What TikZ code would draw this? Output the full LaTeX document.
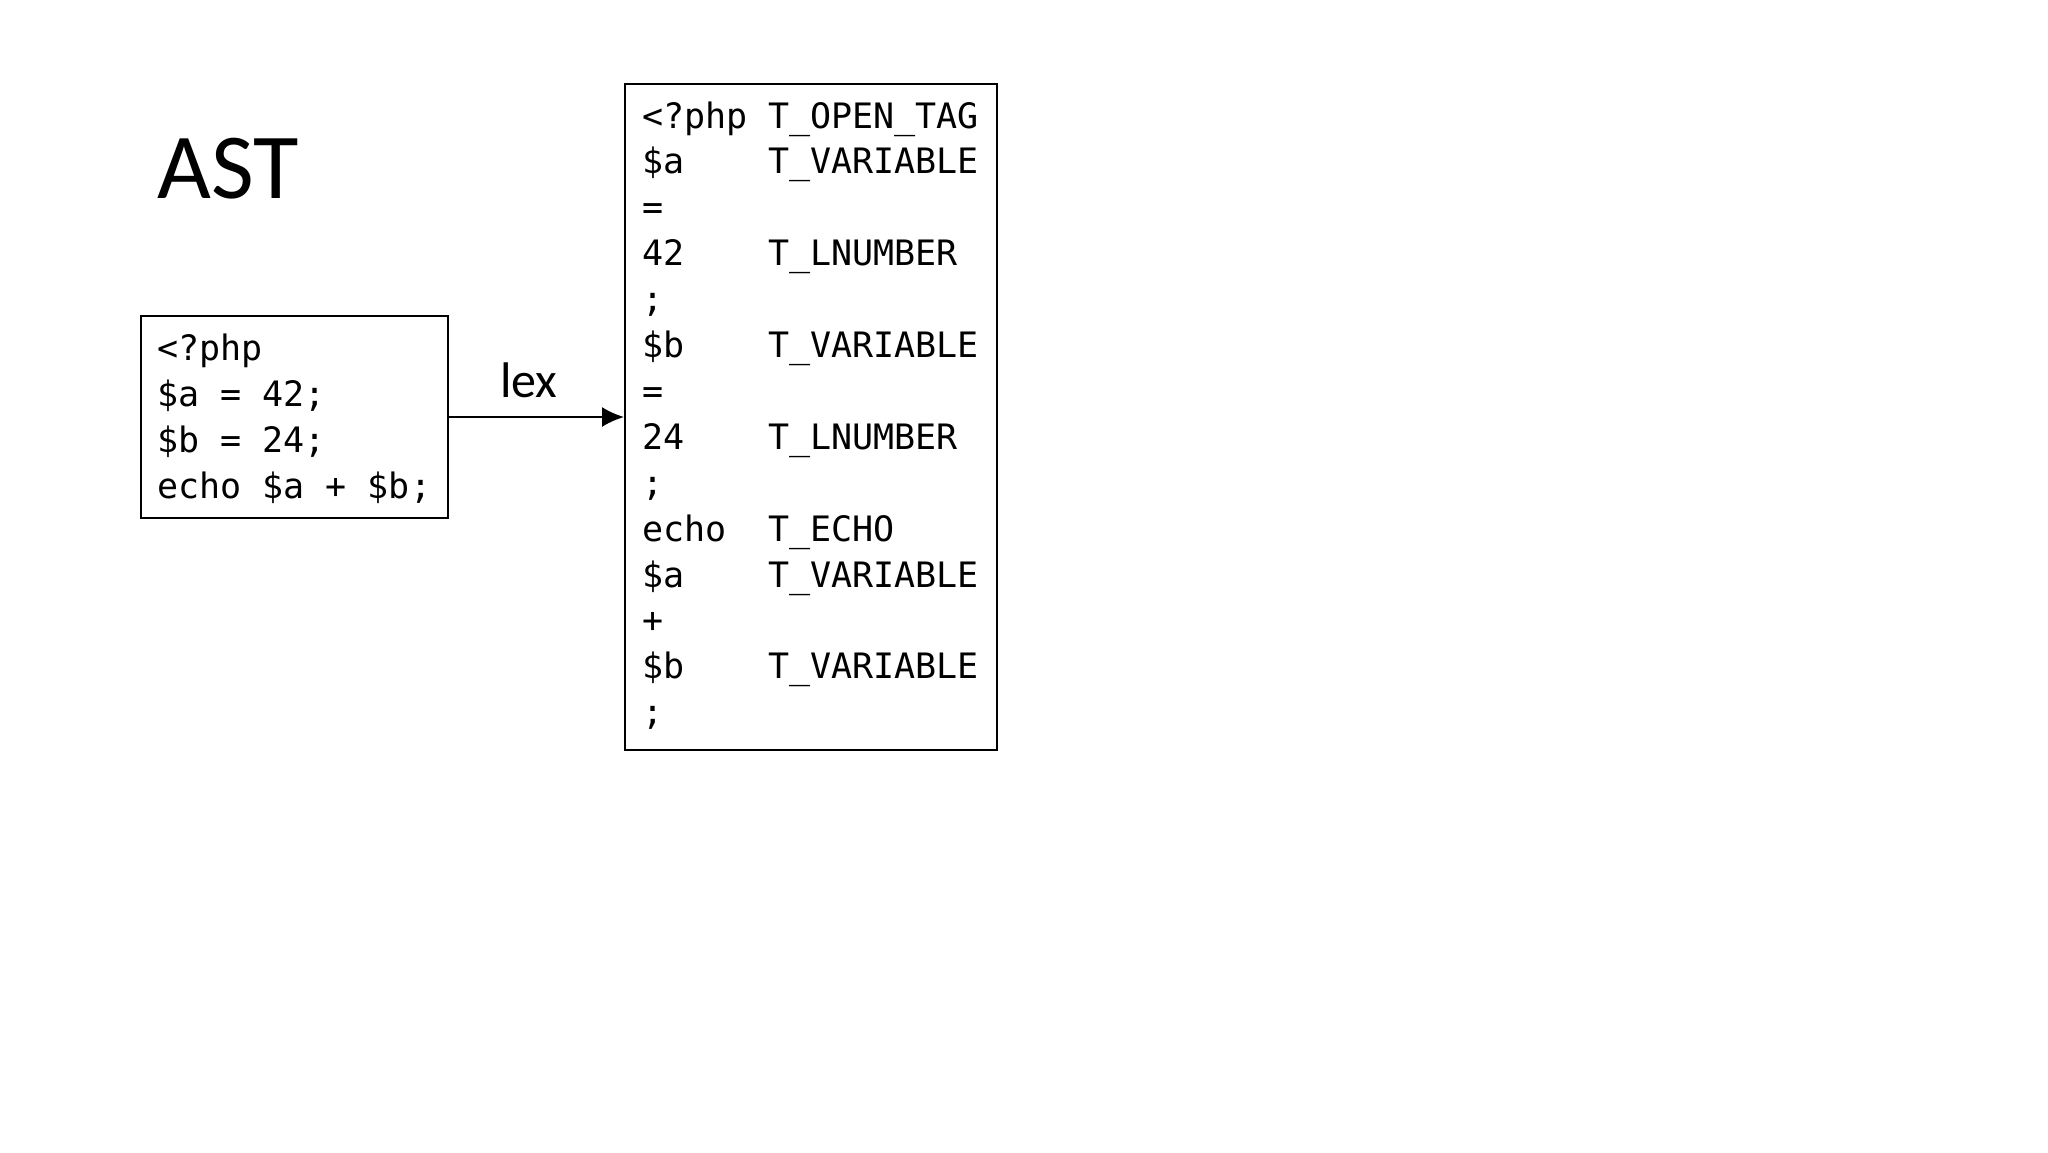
\documentclass[tikz,border=0pt]{standalone}
\usepackage{fontspec}
\setmainfont{Carlito}
\newfontfamily\codefont{DejaVu Sans Mono}
\usetikzlibrary{arrows.meta}
\begin{document}
\begin{tikzpicture}[x=1pt,y=-1pt,
  code/.style={font=\codefont\fontsize{35}{46}\selectfont, inner sep=0pt, anchor=base west},
  box/.style={draw, line width=2pt, inner sep=0pt},
  conn/.style={line width=2pt, -{Latex[length=22pt,width=20pt]}}]
\useasboundingbox[fill=white] (0,0) rectangle (2048,1152);
\node[font=\fontsize{93}{100}\selectfont, inner sep=0pt, anchor=base west] (title) at (157,198) {AST};
\node[box, minimum width=307pt, minimum height=202pt] (src) at (294.5,417) {};
\node[box, minimum width=372pt, minimum height=666pt] (tok) at (811,417) {};
\foreach \s [count=\i from 0] in {{<?php},{\$a = 42;},{\$b = 24;},{echo \$a + \$b;}}
  \node[code] (l\i) at (157,360+46*\i) {\s};
\foreach \a/\b [count=\i from 0] in {{<?php}/{T\_OPEN\_TAG},{\$a}/{T\_VARIABLE},{=}/{},{42}/{T\_LNUMBER},{;}/{},{\$b}/{T\_VARIABLE},{=}/{},{24}/{T\_LNUMBER},{;}/{},{echo}/{T\_ECHO},{\$a}/{T\_VARIABLE},{+}/{},{\$b}/{T\_VARIABLE},{;}/{}}{
  \node[code] (t\i) at (642,128+45.9*\i) {\a};
  \node[code] (k\i) at (768,128+45.9*\i) {\b};
}
\node[font=\fontsize{50}{60}\selectfont, inner sep=0pt, anchor=base] (lex) at (529,397) {lex};
\draw[conn] (src.east) -- (tok.west);
\end{tikzpicture}
\end{document}
